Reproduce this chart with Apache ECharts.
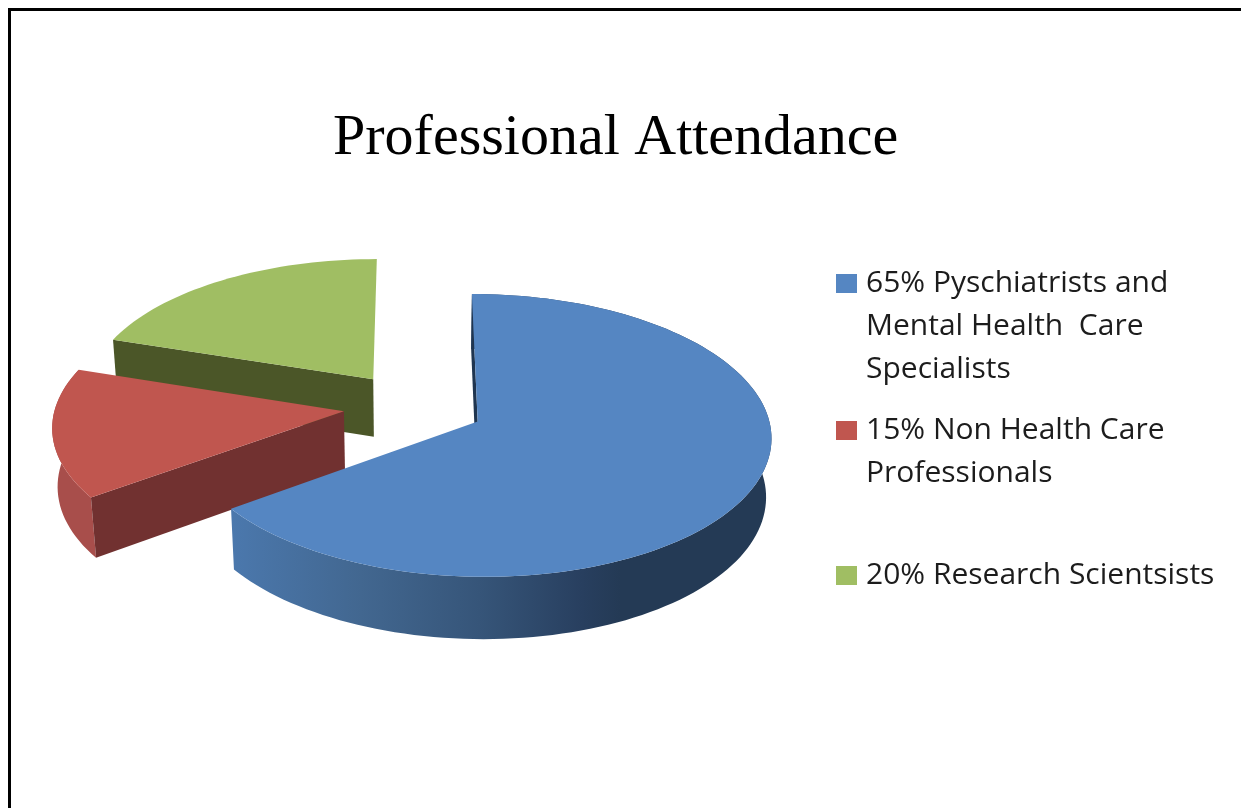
<!DOCTYPE html>
<html>
<head>
<meta charset="utf-8">
<title>Professional Attendance</title>
<script src="https://cdn.jsdelivr.net/npm/echarts@6/dist/echarts.min.js"></script>
<style>
html, body { margin: 0; padding: 0; background: #fff; overflow: hidden; }
#chart { width: 1241px; height: 808px; }
</style>
</head>
<body>
<div id="chart"></div>
<script>
var titleText = 'Professional Attendance';
var categories = [
	'65% Pyschiatrists and\nMental Health  Care\nSpecialists',
	'15% Non Health Care\nProfessionals',
	'20% Research Scientsists'
];
var shares = [65, 15, 20];
var topColors = ['#5586C2', '#C0564F', '#A0BE63'];
var cutColors = ['#1F3550', '#713130', '#4B5628'];
// green's rim faces away, nothing to draw there
var rimColors = ['#4B78AD', '#A84E4B', null];
var legendTops = [176, 366, 554];

// pie seen from above with a bit of perspective, exploded slices
var view = {cx: 414, cy: 406, a: 288.5, b: 137, p: 0.098, depth: 59, shrink: 0.015, explode: 0.245};

function project(x, y, down) {
	var w = 1 - view.p * y + (down ? view.shrink : 0);
	return [
		view.cx + view.a * x / w,
		view.cy + (view.b * y + (down ? view.depth : 0)) / w
	];
}

function renderSlice(params, api) {
	var index = api.value(0);
	var from = api.value(1) / 100 * Math.PI * 2;
	var to = from + api.value(2) / 100 * Math.PI * 2;
	var mid = (from + to) / 2;
	var ox = view.explode * Math.sin(mid);
	var oy = -view.explode * Math.cos(mid);
	var steps = Math.ceil(api.value(2) * 2);
	var upper = [], lower = [];
	for (var i = 0; i <= steps; i++) {
		var t = from + (to - from) * i / steps;
		upper.push(project(ox + Math.sin(t), oy - Math.cos(t), false));
		lower.push(project(ox + Math.sin(t), oy - Math.cos(t), true));
	}
	var apex = project(ox, oy, false);
	var apexDown = project(ox, oy, true);
	var rimFill = rimColors[index];
	if (index === 0) {
		rimFill = new echarts.graphic.LinearGradient(0, 0, 1, 0, [
			{offset: 0, color: '#4B78AD'},
			{offset: 0.24, color: '#426790'},
			{offset: 0.46, color: '#365579'},
			{offset: 0.65, color: '#283F5F'},
			{offset: 0.72, color: '#243A55'},
			{offset: 1, color: '#243A55'}
		]);
	}
	var children = [];
	if (rimFill) {
		children.push({
			type: 'polygon',
			shape: {points: upper.concat(lower.slice().reverse())},
			style: {fill: rimFill}
		});
	}
	children.push({
		type: 'polygon',
		shape: {points: [apex, upper[0], lower[0], apexDown]},
		style: {fill: cutColors[index]}
	});
	children.push({
		type: 'polygon',
		shape: {points: [apex].concat(upper)},
		style: {fill: topColors[index]}
	});
	return {type: 'group', children: children};
}

var series = [];
var legends = [];
var started = 0;
for (var i = 0; i < shares.length; i++) {
	series.push({
		type: 'custom',
		name: categories[i],
		coordinateSystem: 'none',
		silent: true,
		// back slices first, blue lies over the others
		z: 5 - i,
		itemStyle: {color: topColors[i]},
		renderItem: renderSlice,
		data: [[i, started, shares[i]]]
	});
	legends.push({
		data: [categories[i]],
		left: 836,
		top: legendTops[i],
		selectedMode: false,
		icon: 'rect',
		itemWidth: 21,
		itemHeight: 19,
		itemGap: 0,
		padding: 0,
		// blank lines above the text keep the marker level with the first line
		formatter: function(name) {
			var lines = name.split('\n').length;
			return new Array(lines).join(' \n') + name;
		},
		textStyle: {
			fontFamily: 'Open Sans',
			fontSize: 30,
			lineHeight: 43,
			color: '#1c1c1c',
			padding: [0, 0, 0, 4]
		}
	});
	started += shares[i];
}

var myChart = echarts.init(document.getElementById('chart'));
myChart.setOption({
	animation: false,
	backgroundColor: '#fff',
	title: {
		text: titleText,
		left: 333,
		top: 110,
		padding: 0,
		textStyle: {
			fontFamily: 'Liberation Serif',
			fontSize: 58,
			fontWeight: 'normal',
			color: '#000'
		}
	},
	legend: legends,
	graphic: [{
		type: 'polyline',
		silent: true,
		shape: {points: [[9.5, 808], [9.5, 9.5], [1241, 9.5]]},
		style: {stroke: '#000', lineWidth: 3, fill: null}
	}],
	series: series
});
</script>
</body>
</html>
